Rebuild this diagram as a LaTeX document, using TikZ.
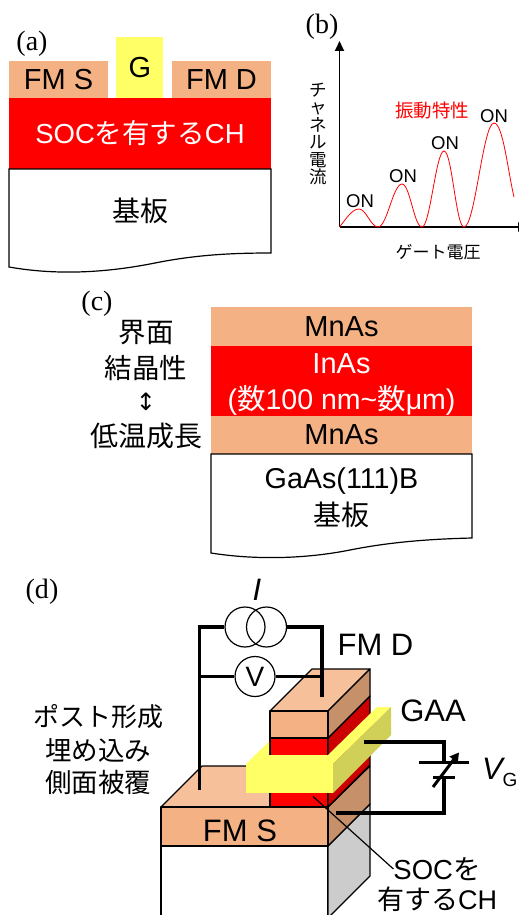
\documentclass[tikz,border=0pt]{standalone}
\usepackage{fontspec}
\setmainfont{Liberation Sans}
\newfontfamily\jp{Noto Sans CJK JP}
\newfontfamily\tms{Liberation Serif}
\newfontfamily\sym{DejaVu Sans}
\usepackage{tikz}
\usetikzlibrary{positioning,arrows.meta}
\definecolor{fmcol}{RGB}{244,177,131}
\definecolor{fmtop}{RGB}{246,192,155}
\definecolor{fmside}{RGB}{197,144,106}
\definecolor{gatecol}{RGB}{255,255,102}
\definecolor{gateside}{RGB}{208,208,88}
\definecolor{redside}{RGB}{204,0,0}
\definecolor{greyside}{RGB}{204,204,204}
\newcommand{\fs}[1]{\fontsize{#1}{#1}\selectfont}
\tikzset{
	layer/.style={inner sep=0pt, outer sep=0pt, align=center},
	fmlayer/.style={layer, fill=fmcol},
	chlayer/.style={layer, fill=red, text=white},
	txt/.style={inner sep=0pt, outer sep=0pt, align=center},
	panel/.style={txt, font=\tms\fs{28}},
	wire/.style={line width=3.7pt},
	thinwire/.style={line width=3pt},
	face/.style={draw=black, line width=1.2pt, line join=round},
	srccircle/.style={circle, draw=black, line width=1.2pt, minimum size=40pt, inner sep=0pt}
}
\begin{document}
\begin{tikzpicture}[x=1pt,y=-1pt]
		\clip (0,0) rectangle (519,915);
		\fill[white] (0,0) rectangle (519,915);

		\node[panel] (pa) at (32,44) {(a)};
		\node[fmlayer, anchor=north west, minimum width=99pt, minimum height=37pt, font=\fs{29}] (fmsa) at (9,61) {FM S};
		\node[fmlayer, anchor=north west, minimum width=99pt, minimum height=37pt, font=\fs{29}] (fmda) at (172,61) {FM D};
		\node[layer, fill=gatecol, anchor=north west, minimum width=47pt, minimum height=61pt] (gatea) at (116,37) {};
		\node[txt, font=\fs{29}] (gatet) at (140,68) {G};
		\node[chlayer, anchor=north west, minimum width=262pt, minimum height=71pt, font=\fs{27.5}] (cha) at (9,98) {SOC{\jp を有する}CH};
		\draw[line width=1.2pt, fill=white] (cha.south west) -- (9,267) .. controls (60,276) and (110,272) .. (155,263) .. controls (195,255) and (230,253) .. (271,253) -- (cha.south east) -- cycle;
		\node[txt, font=\jp\fs{28}, below=29pt of cha] (suba) {基板};

		\node[panel] (pb) at (322,27) {(b)};
		\coordinate (orig) at (339.5,227);
		\coordinate (ytip) at (339.5,41);
		\coordinate (xtip) at (528,227);
		\draw[line width=1.8pt, -{Triangle[length=10pt,width=9pt]}] (orig) -- (ytip);
		\draw[line width=1.8pt, -{Triangle[length=10pt,width=9pt]}] (orig) -- (xtip);
		\draw[red, line width=0.8pt] (orig) .. controls (346,219) and (352,209) .. (359,209)
			.. controls (366,209) and (371,227) .. (378,227)
			.. controls (387,227) and (393,184) .. (402,184)
			.. controls (410,184) and (414,227) .. (422,227)
			.. controls (430,227) and (436,151) .. (444,151)
			.. controls (452,151) and (456,227) .. (464,227)
			.. controls (475,227) and (483,123) .. (494,123)
			.. controls (503,123) and (508,172) .. (514,197);
		\node[txt, font=\fs{18.5}] (on1) at (360,201) {ON};
		\node[txt, font=\fs{18.5}] (on2) at (403,176) {ON};
		\node[txt, font=\fs{18.5}] (on3) at (445,143) {ON};
		\node[txt, font=\fs{18.5}] (on4) at (494,116) {ON};
		\node[txt, text=red, font=\jp\fs{18.5}] (osc) at (432,111) {振動特性};
		\node[txt, font=\jp\fs{17.5}, align=center] (ylab) at (318,134) {チ\\ャ\\ネ\\ル\\電\\流};
		\node[txt, font=\jp\fs{17}] (xlab) at (438,252) {ゲート電圧};

		\node[panel] (pc) at (97,304) {(c)};
		\node[fmlayer, anchor=north west, minimum width=261pt, minimum height=38.5pt, font=\fs{29}] (mn1) at (211,307) {MnAs};
		\node[chlayer, minimum width=261pt, minimum height=70pt, below=0pt of mn1] (inas) {};
		\node[txt, text=white, font=\fs{29}] (inast) at (341.5,364) {InAs};
		\node[txt, text=white, font=\fs{28.5}] (thick) at (341.5,400) {({\jp 数}100 nm\textasciitilde{\jp 数}μm)};
		\node[fmlayer, minimum width=261pt, minimum height=38.5pt, font=\fs{29}, below=0pt of inas] (mn2) {MnAs};
		\draw[line width=1.2pt, fill=white] (mn2.south west) -- (211,553) .. controls (255,560) and (305,559) .. (350,550) .. controls (390,542) and (430,539) .. (472,538) -- (mn2.south east) -- cycle;
		\node[txt, font=\fs{28.7}, below=14pt of mn2] (gaas) {GaAs(111)B};
		\node[txt, font=\jp\fs{28}, below=7pt of gaas] (subc) {基板};
		\node[txt, font=\jp\fs{27.5}] (iface) at (146,333) {界面};
		\node[txt, font=\jp\fs{27.5}, below=10pt of iface] (cryst) {結晶性};
		\node[txt, font=\sym\fs{24}] (updown) at (146,402) {↕};
		\node[txt, font=\jp\fs{28}] (lowt) at (146,436) {低温成長};

		\node[panel] (pd) at (42,592) {(d)};
		\node[txt, font=\jp\fs{26}] (post) at (98,717) {ポスト形成};
		\node[txt, font=\jp\fs{26.5}, below=9pt of post] (bury) {埋め込み};
		\node[txt, font=\jp\fs{26.5}, below=8pt of bury] (side) {側面被覆};

		\draw[face, fill=white] (161,846) rectangle (328,925);
		\draw[face, fill=greyside] (328,846) -- (370,804) -- (370,876) -- (328,918) -- cycle;
		\draw[face, fill=fmtop] (161,807) -- (202,766) -- (370,766) -- (328,807) -- cycle;
		\draw[face, fill=fmside] (328,807) -- (370,766) -- (370,804) -- (328,846) -- cycle;
		\draw[face, fill=fmcol] (161,807) rectangle (328,846);
		\node[txt, font=\fs{31}] (fmsd) at (240,831) {FM S};

		\draw[face, fill=red] (270,738) rectangle (328,807);
		\draw[face, fill=redside] (328,738) -- (370,696) -- (370,765) -- (328,807) -- cycle;
		\draw[face, fill=fmtop] (270,711) -- (312,669) -- (370,669) -- (328,711) -- cycle;
		\draw[face, fill=fmside] (328,711) -- (370,669) -- (370,696) -- (328,738) -- cycle;
		\draw[face, fill=fmcol] (270,711) rectangle (328,738);

		\fill[gatecol] (246,764) -- (269,741.5) -- (269,755) -- (328,755) -- (377,707) -- (391,707) -- (333,764) -- cycle;
		\fill[gateside] (333,764) -- (391,707) -- (391,735) -- (333,793) -- cycle;
		\fill[gatecol] (246,764) rectangle (333,793);

		\coordinate (wires) at (199.5,790);
		\coordinate (wired) at (321.7,697);
		\coordinate (gatep) at (364,742);
		\coordinate (subp) at (336,813);
		\node[srccircle] (isrca) at (245,627) {};
		\node[srccircle] (isrcb) at (266.5,627) {};
		\node[srccircle, fill=white, font=\fs{28}] (vm) at (255,676.5) {V};
		\draw[wire, line join=miter] (wires) |- (isrca.west);
		\draw[wire, line join=miter] (wired) |- (isrcb.east);
		\draw[thinwire] (199.5,676.5) -- (vm.west);
		\draw[thinwire] (vm.east) -- (321.7,676.5);
		\node[txt, font=\itshape\fs{31}] (icur) at (257,590) {I};
		\node[txt, font=\fs{31}] (fmdd) at (375.5,645) {FM D};
		\node[txt, font=\fs{31}] (gaa) at (433,711) {GAA};

		\node[inner sep=0pt, minimum width=50pt, minimum height=3.5pt, fill=black] (platea) at (444,762.5) {};
		\node[inner sep=0pt, minimum width=22pt, minimum height=3.5pt, fill=black] (plateb) at (444,777.5) {};
		\draw[wire, line join=miter] (gatep) -| (platea.north);
		\draw[wire, line join=miter] (subp) -| (plateb.south);
		\coordinate (vara) at (433,787);
		\coordinate (varb) at (459,752.5);
		\draw[line width=3pt, -{Triangle[length=9pt,width=10pt]}] (vara) -- (varb);
		\node[txt, font=\fs{31}, anchor=base west] (vg) at (482,779) {\textit{V}\kern-2.5pt\raisebox{-7.5pt}{\fs{19}G}};

		\node[txt, font=\fs{27.5}] (soc) at (437,869) {SOC{\jp を}};
		\node[txt, font=\fs{27}] (soc2) at (437,899.5) {{\jp 有する}CH};
		\coordinate (socp) at (313,796.5);
		\draw[line width=1.2pt] (socp) -- (soc.west);
	\end{tikzpicture}
\end{document}
